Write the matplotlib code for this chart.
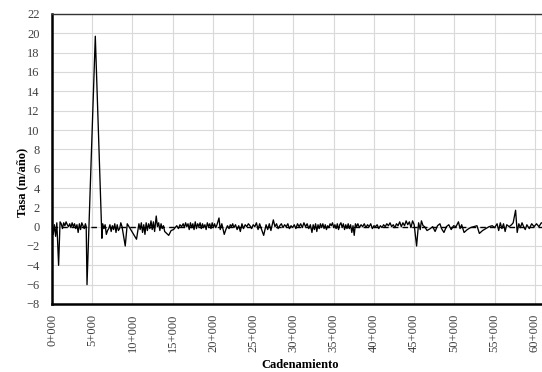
import matplotlib
matplotlib.use("Agg")
import matplotlib.pyplot as plt

# Chainage (m) and rate (m/año)
chainage = [
    0, 150, 300, 450, 600, 820, 1000, 1150, 1300, 1450, 1600, 1750, 1900, 2050, 2200, 2350,
    2500, 2650, 2800, 2950, 3100, 3250, 3400, 3550, 3700, 3850, 4000, 4150, 4250, 4350,
    5380, 6200, 6300, 6450, 6600, 6750, 6900, 7050, 7200, 7350, 7500, 7650, 7800, 7950,
    8100, 8250, 8400, 8550, 8700, 9100, 9350, 10500, 10800, 10950, 11100, 11250, 11400,
    11550, 11700, 11850, 12000, 12150, 12300, 12450, 12600, 12750, 12950, 13100, 13250,
    13400, 13550, 13700, 13850, 14000, 14500, 14800, 15100, 15300, 15500, 15700, 15900,
    16100, 16300, 16450, 16600, 16750, 16900, 17050, 17200, 17350, 17500, 17650, 17800,
    17950, 18100, 18250, 18400, 18550, 18700, 18850, 19000, 19150, 19300, 19450, 19600,
    19750, 19900, 20050, 20200, 20350, 20500, 20750, 20900, 21100, 21400, 21600, 21800,
    22000, 22150, 22300, 22450, 22600, 22800, 23000, 23200, 23400, 23600, 23800, 24000,
    24200, 24400, 24600, 24800, 25000, 25200, 25400, 25600, 25800, 26000, 26300, 26600,
    26800, 27000, 27200, 27500, 27700, 27900, 28100, 28300, 28500, 28700, 28900, 29100,
    29300, 29500, 29700, 29900, 30100, 30300, 30500, 30700, 30900, 31100, 31300, 31500,
    31700, 31900, 32100, 32300, 32450, 32600, 32750, 32900, 33050, 33200, 33350, 33500,
    33650, 33800, 33950, 34100, 34250, 34400, 34550, 34700, 34850, 35000, 35150, 35300,
    35450, 35600, 35750, 35900, 36050, 36200, 36350, 36500, 36650, 36800, 36950, 37100,
    37250, 37400, 37550, 37700, 37850, 38000, 38200, 38400, 38600, 38800, 39000, 39200,
    39400, 39600, 39800, 40000, 40200, 40400, 40600, 40800, 41000, 41200, 41400, 41600,
    41800, 42000, 42200, 42400, 42600, 42800, 43000, 43200, 43400, 43600, 43800, 44000,
    44200, 44400, 44600, 44800, 45000, 45300, 45550, 45750, 45900, 46100, 46300, 46600,
    47000, 47300, 47600, 47900, 48200, 48400, 48700, 49000, 49300, 49600, 49900, 50200,
    50500, 50700, 50900, 51200, 51600, 52000, 52400, 52800, 53100, 53500, 53900, 54300,
    54700, 55000, 55300, 55500, 55700, 55900, 56100, 56300, 56500, 56800, 57100, 57300,
    57600, 57800, 58000, 58200, 58400, 58600, 58800, 59000, 59300, 59600, 59900, 60200,
    60500, 60800, 61200,
]
tasa = [
    0.3, -0.8, 0.2, -1.0, 0.4, -4.0, 0.5, 0.3, -0.2, 0.4, 0.1, 0.5, 0.2, 0.0, 0.3, -0.1,
    0.4, 0.0, 0.3, -0.2, 0.2, -0.6, 0.3, -0.3, 0.4, 0.1, -0.2, 0.3, 0.0, -6.0,
    19.7, -1.2, 0.3, -0.2, 0.2, -0.8, -0.4, -0.2, 0.2, -0.5, 0.1, -0.3, 0.3, -0.6,
    0.2, -0.4, -0.2, 0.4, 0.0, -2.0, 0.3, -1.3, 0.3, -0.3, 0.4, -0.6, 0.2,
    -0.8, 0.4, -0.4, 0.3, -0.2, 0.6, -0.3, 0.5, -0.5, 1.1, 0.0, 0.4,
    -0.4, 0.3, -0.2, 0.1, -0.5, -0.9, -0.4, -0.3, -0.1, 0.1, -0.2, 0.2,
    0.0, 0.3, -0.1, 0.4, 0.0, 0.3, -0.3, 0.4, -0.1, 0.3, -0.3, 0.5,
    -0.2, 0.3, 0.0, 0.4, -0.2, 0.3, -0.1, 0.2, -0.3, 0.4, 0.0, 0.3,
    -0.2, 0.4, -0.1, 0.3, -0.1, 0.2, 0.9, -0.3, 0.3, -0.8, -0.3, 0.1,
    -0.2, 0.2, 0.0, 0.3, -0.1, 0.2, -0.3, 0.1, -0.5, 0.3, -0.2, 0.2,
    0.0, 0.3, 0.1, -0.2, 0.2, 0.0, 0.4, -0.3, 0.3, -0.2, -0.9, 0.2,
    -0.3, 0.3, -0.4, 0.7, 0.0, 0.3, -0.2, 0.1, 0.3, -0.1, 0.2, 0.0,
    0.3, -0.2, 0.1, -0.1, 0.2, -0.2, 0.3, 0.0, 0.3, -0.1, 0.4, 0.0,
    0.3, -0.2, 0.2, -0.6, 0.2, -0.3, 0.3, -0.5, 0.2, -0.2, 0.3, -0.1,
    0.3, -0.2, 0.2, -0.3, 0.1, -0.1, 0.3, 0.1, 0.4, -0.1, 0.2, -0.2,
    0.3, -0.3, 0.2, 0.4, -0.1, 0.3, -0.3, 0.2, -0.2, 0.3, -0.2, 0.2,
    -0.6, 0.1, -0.9, 0.3, 0.0, 0.3, -0.1, 0.2, 0.0, 0.3, -0.1, 0.2,
    0.0, 0.3, -0.2, 0.1, 0.0, 0.2, -0.2, 0.1, -0.1, 0.2, 0.0, 0.3,
    0.1, 0.4, 0.0, 0.2, -0.1, 0.3, 0.1, 0.5, 0.0, 0.4, 0.1, 0.6,
    0.2, 0.5, -0.1, 0.6, 0.2, -2.0, 0.4, -0.3, 0.6, 0.1, 0.0, -0.4,
    -0.2, 0.0, -0.5, 0.1, 0.3, -0.2, -0.6, 0.0, 0.2, -0.3, 0.1, 0.0,
    0.5, -0.2, 0.2, -0.6, -0.3, -0.1, 0.0, 0.1, -0.7, -0.4, -0.2, 0.0,
    0.1, -0.1, 0.3, -0.4, 0.4, -0.2, 0.3, -0.5, 0.2, 0.0, 0.2, 0.4,
    1.7, -0.6, 0.3, -0.1, 0.4, 0.0, -0.3, 0.2, -0.2, 0.3, 0.0, 0.3,
    0.0, 0.4, 0.3,
]

xticks = list(range(0, 60001, 5000))
xtick_labels = [f"{t // 1000}+000" for t in xticks]
yticks = list(range(-8, 23, 2))

plt.rcParams['font.family'] = ['Liberation Serif', 'DejaVu Serif']

fig = plt.figure(figsize=(5.42, 3.72), dpi=100)
ax = fig.add_axes([52 / 542, 68 / 372, 499 / 542, 290 / 372])

ax.axhline(0, color='black', lw=1.0, ls=(0, (4, 3)), zorder=2)
ax.plot(chainage, tasa, color='black', lw=0.95, zorder=3)

ax.set_xlim(0, 62000)
ax.set_ylim(-8, 22)
ax.set_xticks(xticks)
ax.set_xticklabels(xtick_labels, rotation=90)
ax.set_yticks(yticks)
ax.grid(True, color='#d9d9d9', lw=0.8, zorder=0)
ax.set_axisbelow(True)
ax.tick_params(axis='both', length=0, labelsize=9, labelcolor='#404040')
ax.tick_params(axis='y', pad=9)
ax.tick_params(axis='x', pad=7)

for s in ['left', 'bottom']:
    ax.spines[s].set_linewidth(1.8)
    ax.spines[s].set_color('black')
ax.spines['top'].set_linewidth(1.0)
ax.spines['top'].set_color('#333333')
ax.spines['right'].set_visible(False)

fig.text(300 / 542, 1 - 365 / 372, 'Cadenamiento', ha='center', va='center',
         fontsize=9, fontweight='bold')
fig.text(22 / 542, 1 - 182 / 372, 'Tasa (m/año)', ha='center', va='center',
         rotation=90, fontsize=9, fontweight='bold')

fig.savefig('out.png', dpi=100)
